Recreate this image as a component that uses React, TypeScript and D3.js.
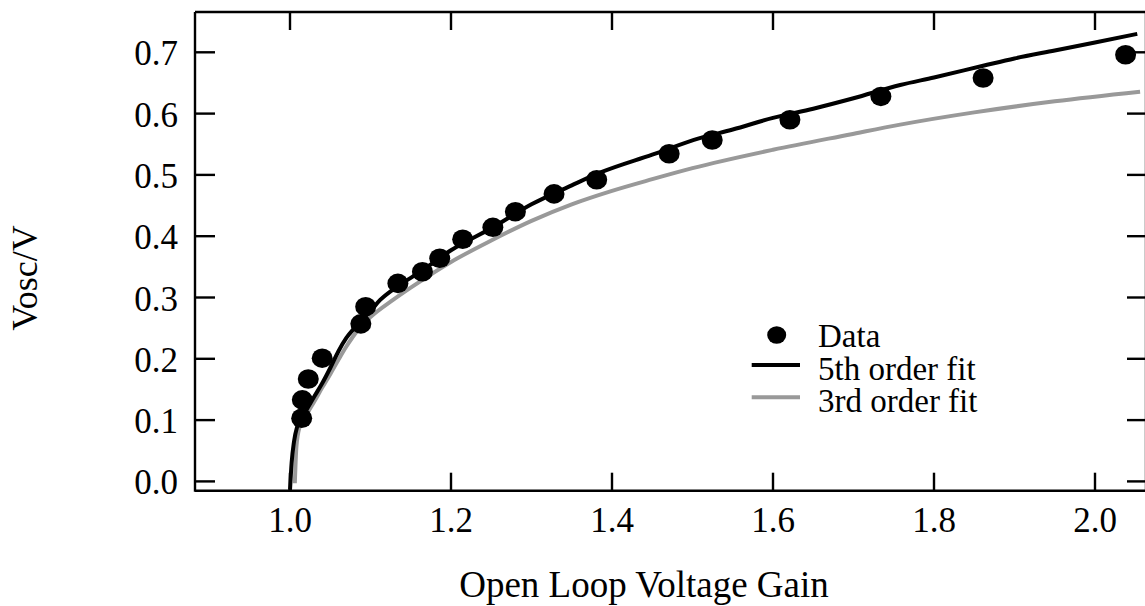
import React from "react";
import * as d3 from "d3";

const dataX = [1.0145, 1.0153, 1.0227, 1.04, 1.088, 1.094, 1.134, 1.1645, 1.186, 1.2145, 1.252, 1.28, 1.328, 1.381, 1.471, 1.5245, 1.621, 1.734, 1.861, 2.038];
const dataY = [0.103, 0.133, 0.167, 0.201, 0.257, 0.285, 0.323, 0.342, 0.364, 0.395, 0.4145, 0.44, 0.469, 0.492, 0.5345, 0.557, 0.59, 0.628, 0.658, 0.696];

const fit5X = [1.0, 1.002, 1.005, 1.009, 1.015, 1.022, 1.03, 1.04, 1.05, 1.06, 1.07, 1.08, 1.09, 1.1, 1.112, 1.13, 1.15, 1.175, 1.2, 1.25, 1.3, 1.35, 1.385, 1.45, 1.509, 1.55, 1.6, 1.65, 1.7, 1.758, 1.8, 1.861, 1.9, 1.95, 2.0, 2.0525];
const fit5Y = [-0.014, 0.03, 0.065, 0.09, 0.104, 0.12, 0.138, 0.16, 0.185, 0.212, 0.234, 0.25, 0.264, 0.278, 0.296, 0.315, 0.332, 0.354, 0.377, 0.413, 0.452, 0.483, 0.5036, 0.533, 0.56, 0.574, 0.593, 0.608, 0.625, 0.6467, 0.659, 0.678, 0.69, 0.703, 0.716, 0.73];

const fit3X = [1.006, 1.008, 1.012, 1.02, 1.03, 1.04, 1.05, 1.06, 1.07, 1.085, 1.1, 1.128, 1.15, 1.2, 1.25, 1.3, 1.35, 1.4, 1.45, 1.5, 1.6, 1.6957, 1.758, 1.85, 1.95, 2.056];
const fit3Y = [-0.003, 0.057, 0.089, 0.108, 0.13, 0.153, 0.175, 0.198, 0.22, 0.248, 0.268, 0.296, 0.316, 0.358, 0.393, 0.425, 0.452, 0.474, 0.493, 0.511, 0.541, 0.566, 0.582, 0.602, 0.62, 0.6357];

const xTicks = [1.0, 1.2, 1.4, 1.6, 1.8, 2.0];
const yTicks = [0.0, 0.1, 0.2, 0.3, 0.4, 0.5, 0.6, 0.7];
const legendLabels = ["Data", "5th order fit", "3rd order fit"];

const W = 1145;
const H = 606;
const left = 195;
const right = 1146;
const top = 12;
const bottom = 490.7;
const FONT = "'Liberation Serif', 'Times New Roman', serif";

export default function App() {
  const x = d3.scaleLinear().domain([1.0, 1.2]).range([290, 451]);
  const y = d3.scaleLinear().domain([0.0, 0.7]).range([481.4, 52.3]);

  const line = d3
    .line<[number, number]>()
    .x((d) => x(d[0]))
    .y((d) => y(d[1]))
    .curve(d3.curveMonotoneX);

  const fit5 = fit5X.map((v, i) => [v, fit5Y[i]] as [number, number]);
  const fit3 = fit3X.map((v, i) => [v, fit3Y[i]] as [number, number]);

  const tickLen = 18;
  const fs = 35;

  return (
    <svg width={W} height={H} style={{ position: "absolute", left: 0, top: 0, background: "#fff" }} fontFamily={FONT}>
      <rect x={0} y={0} width={W} height={H} fill="#fff" />
      <path d={line(fit3) || ""} fill="none" stroke="#999" strokeWidth={4} />
      <path d={line(fit5) || ""} fill="none" stroke="#000" strokeWidth={4} />
      {dataX.map((v, i) => (
        <ellipse key={i} cx={x(v)} cy={y(dataY[i])} rx={10.5} ry={9.8} fill="#000" />
      ))}

      <line x1={left} x2={left} y1={top} y2={bottom + 1} stroke="#000" strokeWidth={2.4} />
      <line x1={left} x2={right} y1={bottom} y2={bottom} stroke="#000" strokeWidth={2.4} />
      <line x1={left} x2={right} y1={top} y2={top} stroke="#000" strokeWidth={2.4} />
      <line x1={right} x2={right} y1={top} y2={bottom} stroke="#000" strokeWidth={2.4} />

      {xTicks.map((t) => (
        <g key={"x" + t}>
          <line x1={x(t)} x2={x(t)} y1={bottom} y2={bottom - tickLen} stroke="#000" strokeWidth={2.4} />
          <line x1={x(t)} x2={x(t)} y1={top} y2={top + tickLen} stroke="#000" strokeWidth={2.4} />
          <text x={x(t)} y={532} textAnchor="middle" fontSize={fs} fill="#000">
            {t.toFixed(1)}
          </text>
        </g>
      ))}
      {yTicks.map((t) => (
        <g key={"y" + t}>
          <line x1={left} x2={left + 20} y1={y(t)} y2={y(t)} stroke="#000" strokeWidth={2.4} />
          <line x1={right} x2={right - 19} y1={y(t)} y2={y(t)} stroke="#000" strokeWidth={2.4} />
          <text x={178} y={y(t) + 13} textAnchor="end" fontSize={fs} fill="#000">
            {t.toFixed(1)}
          </text>
        </g>
      ))}

      <text x={644} y={597} textAnchor="middle" fontSize={37} fill="#000">
        Open Loop Voltage Gain
      </text>
      <text transform="translate(37,278) rotate(-90)" textAnchor="middle" fontSize={36} fill="#000">
        Vosc/V
      </text>

      <ellipse cx={776.7} cy={335} rx={9.5} ry={8.8} fill="#000" />
      <line x1={751.7} x2={800} y1={365} y2={365} stroke="#000" strokeWidth={4} />
      <line x1={751.7} x2={800} y1={397.3} y2={397.3} stroke="#999" strokeWidth={4} />
      {legendLabels.map((l, i) => (
        <text key={l} x={818} y={347 + i * 32.5} fontSize={33} fill="#000">
          {l}
        </text>
      ))}
    </svg>
  );
}
